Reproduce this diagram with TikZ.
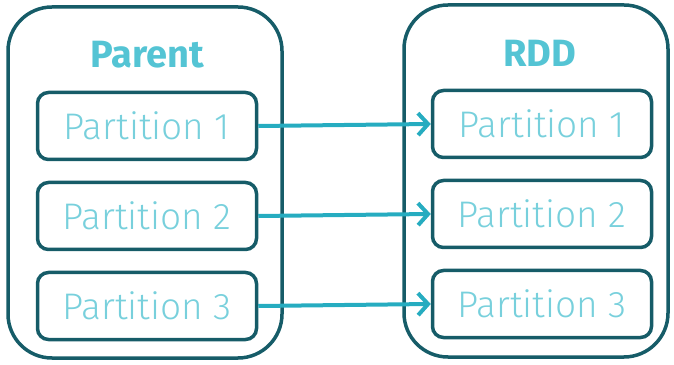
\documentclass[tikz,border=0pt]{standalone}
\usepackage{fontspec}
\setmainfont{Fira Sans}
\newfontfamily\lightfont{Fira Sans Light}
\usetikzlibrary{arrows.meta}
\definecolor{frame}{RGB}{22,92,104}
\definecolor{flow}{RGB}{38,172,192}
\definecolor{title}{RGB}{84,196,212}
\definecolor{label}{RGB}{120,208,220}
\tikzset{
  x=1pt, y=1pt,
  outerbox/.style={draw=frame, line width=3.5pt, rounded corners=44pt},
  partbox/.style={draw=frame, line width=3.5pt, rounded corners=11pt,
    minimum width=219pt, minimum height=67pt, inner sep=0pt,
    text=label, font=\lightfont\fontsize{37}{37}\selectfont},
  heading/.style={text=title, font=\bfseries\fontsize{38}{38}\selectfont},
  link/.style={draw=flow, line width=4pt,
    -{Straight Barb[length=10pt,width=22pt,line width=4pt]}}
}
\begin{document}
\begin{tikzpicture}
\useasboundingbox (0,0) rectangle (674,364);
% outer containers
\draw[outerbox] (8,6) rectangle (282,357);
\draw[outerbox] (404,7) rectangle (668,359);
% headings
\node[heading] (parent) at (147,309) {Parent};
\node[heading] (rdd) at (540,311) {RDD};
% partitions of the parent
\node[partbox] (p1) at (147,238) {Partition 1};
\node[partbox] (p2) at (147,148) {Partition 2};
\node[partbox] (p3) at (147,58) {Partition 3};
% partitions of the RDD
\node[partbox] (r1) at (542,240) {Partition 1};
\node[partbox] (r2) at (542,150) {Partition 2};
\node[partbox] (r3) at (542,60) {Partition 3};
% one-to-one dependencies
\draw[link] (p1.east) -- (r1.west);
\draw[link] (p2.east) -- (r2.west);
\draw[link] (p3.east) -- (r3.west);
\end{tikzpicture}
\end{document}
